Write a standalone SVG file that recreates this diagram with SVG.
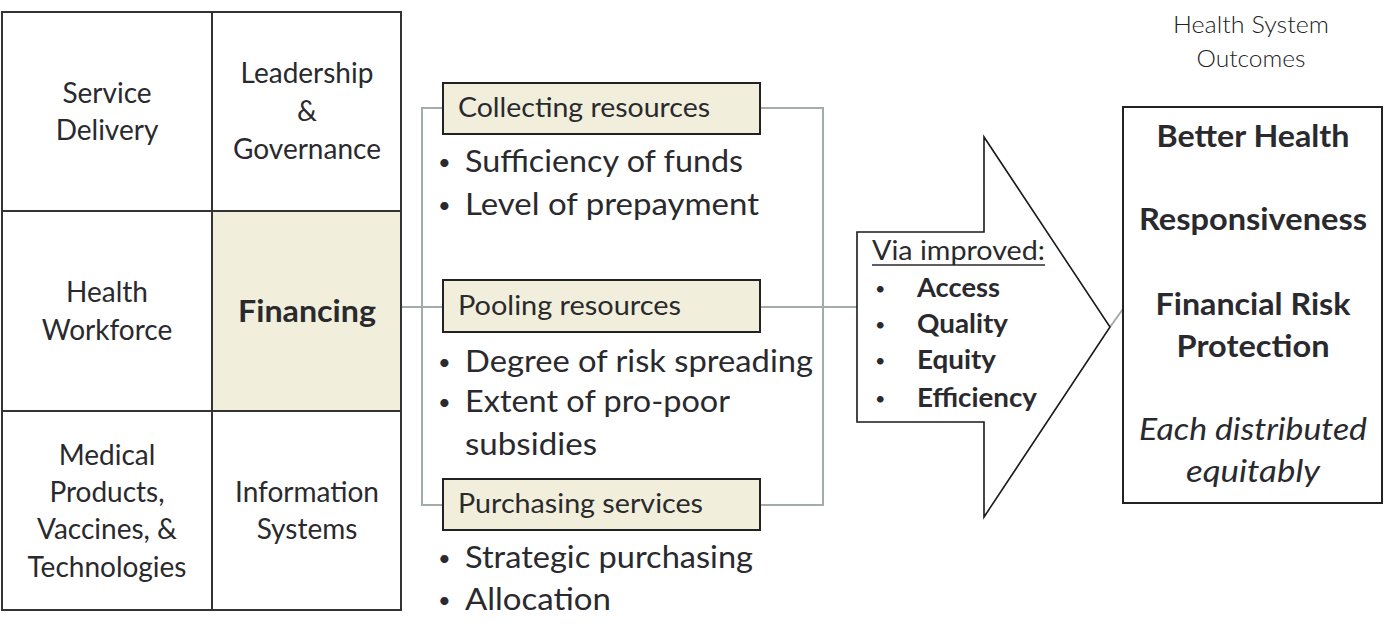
<svg xmlns="http://www.w3.org/2000/svg" width="1395" height="643" viewBox="0 0 1395 643">
<style>
.t{font-family:Lato,"Open Sans","Liberation Sans",sans-serif;fill:#2a2a2e}
.cell{font-size:28px;text-anchor:middle}
.box{font-size:26px}
.bul{font-size:31px}
.dot{font-size:22px}
.arr{font-size:26px}
.ab{font-size:26px;font-weight:bold}
.adot{font-size:18px}
.out{font-size:31px;font-weight:bold;text-anchor:middle}
.it{font-size:31px;font-style:italic;text-anchor:middle}
.hdr{font-size:23px;font-weight:300;text-anchor:middle;fill:#222}
.grid{fill:#fff;stroke:#333;stroke-width:2}
.fin{fill:#f1efdc;stroke:#333;stroke-width:2}
.sub{fill:#f1efdb;stroke:#222;stroke-width:2}
.con{fill:none;stroke:#a3abab;stroke-width:2}
</style>
<g id="connectors">
<line class="con" x1="401" y1="307" x2="443" y2="307"/>
<path class="con" d="M443,108 H422 V505 H443"/>
<path class="con" d="M760,108 H823 V505 H760"/>
<line class="con" x1="760" y1="307" x2="858" y2="307"/>
<line class="con" x1="1110" y1="327" x2="1128" y2="302"/>
</g>
<g id="service-delivery">
<rect class="grid" x="2" y="12" width="210" height="199"/>
<text class="t cell" x="107" y="103">Service</text>
<text class="t cell" x="107" y="140">Delivery</text>
</g>
<g id="leadership">
<rect class="grid" x="212" y="12" width="189" height="199"/>
<text class="t cell" x="307" y="83">Leadership</text>
<text class="t cell" x="307" y="121">&amp;</text>
<text class="t cell" x="307" y="159">Governance</text>
</g>
<g id="health-workforce">
<rect class="grid" x="2" y="211" width="210" height="200"/>
<text class="t cell" x="107" y="302">Health</text>
<text class="t cell" x="107" y="340">Workforce</text>
</g>
<g id="financing">
<rect class="fin" x="212" y="211" width="189" height="200"/>
<text class="t" x="307" y="322" style="font-size:31px;font-weight:bold;text-anchor:middle" textLength="138" lengthAdjust="spacingAndGlyphs">Financing</text>
</g>
<g id="medical-products">
<rect class="grid" x="2" y="411" width="210" height="199"/>
<text class="t cell" x="107" y="465">Medical</text>
<text class="t cell" x="107" y="502">Products,</text>
<text class="t cell" x="107" y="539">Vaccines, &amp;</text>
<text class="t cell" x="107" y="577">Technologies</text>
</g>
<g id="information-systems">
<rect class="grid" x="212" y="411" width="189" height="199"/>
<text class="t cell" x="307" y="502">Information</text>
<text class="t cell" x="307" y="539">Systems</text>
</g>
<g id="collecting">
<rect class="sub" x="443" y="83" width="317" height="51"/>
<text class="t box" x="458" y="117" textLength="252" lengthAdjust="spacingAndGlyphs">Collecting resources</text>
<text class="t dot" x="438" y="170">•</text><text class="t bul" x="465" y="172" textLength="278" lengthAdjust="spacingAndGlyphs">Sufficiency of funds</text>
<text class="t dot" x="438" y="213">•</text><text class="t bul" x="465" y="215" textLength="294" lengthAdjust="spacingAndGlyphs">Level of prepayment</text>
</g>
<g id="pooling">
<rect class="sub" x="443" y="280" width="317" height="52"/>
<text class="t box" x="458" y="315" textLength="223" lengthAdjust="spacingAndGlyphs">Pooling resources</text>
<text class="t dot" x="438" y="370">•</text><text class="t bul" x="465" y="372" textLength="348" lengthAdjust="spacingAndGlyphs">Degree of risk spreading</text>
<text class="t dot" x="438" y="410">•</text><text class="t bul" x="465" y="412" textLength="265" lengthAdjust="spacingAndGlyphs">Extent of pro-poor</text>
<text class="t bul" x="465" y="455" textLength="132" lengthAdjust="spacingAndGlyphs">subsidies</text>
</g>
<g id="purchasing">
<rect class="sub" x="443" y="479" width="317" height="51"/>
<text class="t box" x="458" y="513" textLength="245" lengthAdjust="spacingAndGlyphs">Purchasing services</text>
<text class="t dot" x="438" y="566">•</text><text class="t bul" x="465" y="568" textLength="288" lengthAdjust="spacingAndGlyphs">Strategic purchasing</text>
<text class="t dot" x="438" y="608">•</text><text class="t bul" x="465" y="610" textLength="146" lengthAdjust="spacingAndGlyphs">Allocation</text>
</g>
<g id="via-improved">
<polygon points="857,232 984,232 984,137 1110,327 984,517 984,422 857,422" fill="#fff" stroke="#1a1a1a" stroke-width="1.6"/>
<text class="t arr" x="872" y="260" textLength="173" lengthAdjust="spacingAndGlyphs">Via improved:</text>
<line x1="872" y1="265" x2="1045" y2="265" stroke="#2a2a2e" stroke-width="1.5"/>
<text class="t adot" x="875" y="295">•</text><text class="t ab" x="917" y="297" textLength="83" lengthAdjust="spacingAndGlyphs">Access</text>
<text class="t adot" x="875" y="331">•</text><text class="t ab" x="917" y="333" textLength="91" lengthAdjust="spacingAndGlyphs">Quality</text>
<text class="t adot" x="875" y="367">•</text><text class="t ab" x="917" y="369" textLength="79" lengthAdjust="spacingAndGlyphs">Equity</text>
<text class="t adot" x="875" y="405">•</text><text class="t ab" x="917" y="407" textLength="120" lengthAdjust="spacingAndGlyphs">Efficiency</text>
</g>
<g id="outcomes">
<text class="t hdr" x="1251" y="33" textLength="156" lengthAdjust="spacingAndGlyphs">Health System</text>
<text class="t hdr" x="1251" y="67" textLength="109" lengthAdjust="spacingAndGlyphs">Outcomes</text>
<rect x="1123" y="107" width="259" height="396" fill="#fff" stroke="#222" stroke-width="2"/>
<text class="t out" x="1253" y="147" textLength="193" lengthAdjust="spacingAndGlyphs">Better Health</text>
<text class="t out" x="1253" y="230" textLength="228" lengthAdjust="spacingAndGlyphs">Responsiveness</text>
<text class="t out" x="1253" y="315" textLength="195" lengthAdjust="spacingAndGlyphs">Financial Risk</text>
<text class="t out" x="1253" y="357" textLength="153" lengthAdjust="spacingAndGlyphs">Protection</text>
<text class="t it" x="1253" y="440" textLength="228" lengthAdjust="spacingAndGlyphs">Each distributed</text>
<text class="t it" x="1253" y="482" textLength="134" lengthAdjust="spacingAndGlyphs">equitably</text>
</g>
</svg>
